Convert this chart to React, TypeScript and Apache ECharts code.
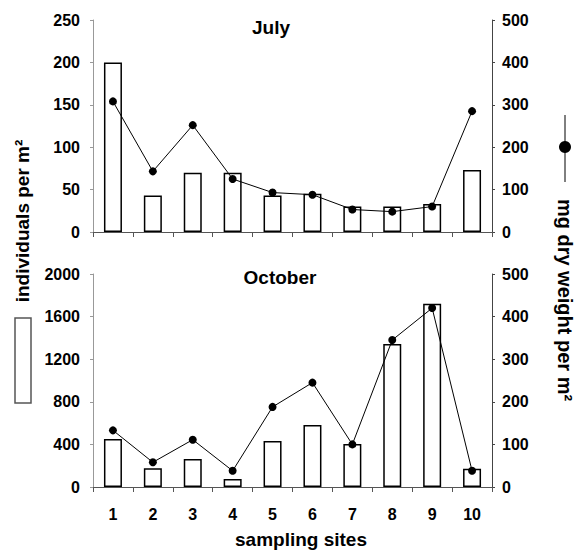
import React, { useEffect, useRef } from "react";
import * as echarts from "echarts";

const sites = ["1", "2", "3", "4", "5", "6", "7", "8", "9", "10"];
const julyIndividuals = [200, 43, 70, 70, 43, 45, 30, 30, 33, 73];
const julyDryWeight = [308, 143, 252, 125, 93, 88, 53, 48, 60, 285];
const octIndividuals = [450, 175, 263, 75, 432, 582, 404, 1343, 1721, 172];
const octDryWeight = [133, 58, 111, 38, 188, 245, 100, 345, 420, 38];

const FONT = "'Liberation Sans', Arial, Helvetica, sans-serif";

export default function App() {
  const ref = useRef<HTMLDivElement>(null);

  useEffect(() => {
    if (!ref.current) return;
    const chart = echarts.init(ref.current, null, { renderer: "svg" });

    const labelStyle = {
      fontFamily: FONT,
      fontWeight: "bold" as const,
      fontSize: 16,
      color: "#000",
    };

    const xAxisBase = (gridIndex: number, showLabel: boolean) => ({
      type: "category" as const,
      gridIndex,
      data: sites,
      boundaryGap: true,
      axisLine: { show: true, lineStyle: { color: "#555", width: 1 } },
      axisTick: { show: true, alignWithLabel: false, length: 5, inside: false, lineStyle: { color: "#555" } },
      axisLabel: { show: showLabel, ...labelStyle, margin: 19 },
      splitLine: { show: false },
    });

    const yAxisBase = (
      gridIndex: number,
      position: "left" | "right",
      max: number,
      interval: number,
      color: string
    ) => ({
      type: "value" as const,
      gridIndex,
      position,
      min: 0,
      max,
      interval,
      axisLine: { show: true, lineStyle: { color, width: 1 } },
      axisTick: { show: true, length: 3, lineStyle: { color } },
      axisLabel: {
        ...labelStyle,
        margin: position === "left" ? 13 : 10,
        formatter: (v: number) => String(v),
      },
      splitLine: { show: false },
    });

    const barStyle = { color: "#fff", borderColor: "#000", borderWidth: 1.5 };
    const lineSeries = (xi: number, yi: number, data: number[]) => ({
      type: "line" as const,
      xAxisIndex: xi,
      yAxisIndex: yi,
      data,
      symbol: "circle",
      symbolSize: 8,
      itemStyle: { color: "#000" },
      lineStyle: { color: "#000", width: 1 },
      z: 5,
    });

    const titleText = (text: string, x: number, y: number, rotation = 0, size = 19) => ({
      type: "text" as const,
      x,
      y,
      rotation,
      style: {
        text,
        fontFamily: FONT,
        fontWeight: "bold",
        fontSize: size,
        fill: "#000",
        textAlign: "center",
        textVerticalAlign: "middle",
      },
    });

    chart.setOption({
      animation: false,
      backgroundColor: "#fff",
      grid: [
        { left: 93, right: 84, top: 20, height: 212 },
        { left: 93, right: 84, top: 274, height: 213 },
      ],
      xAxis: [xAxisBase(0, false), xAxisBase(1, true)],
      yAxis: [
        yAxisBase(0, "left", 250, 50, "#999"),
        yAxisBase(0, "right", 500, 100, "#444"),
        yAxisBase(1, "left", 2000, 400, "#999"),
        yAxisBase(1, "right", 500, 100, "#444"),
      ],
      series: [
        {
          type: "bar",
          xAxisIndex: 0,
          yAxisIndex: 0,
          data: julyIndividuals,
          barWidth: 18,
          itemStyle: barStyle,
        },
        lineSeries(0, 1, julyDryWeight),
        {
          type: "bar",
          xAxisIndex: 1,
          yAxisIndex: 2,
          data: octIndividuals,
          barWidth: 18,
          itemStyle: barStyle,
        },
        lineSeries(1, 3, octDryWeight),
      ],
      graphic: [
        titleText("July", 271, 27),
        titleText("October", 280, 277),
        titleText("sampling sites", 301, 539),
        titleText("individuals per m²", 22, 221, Math.PI / 2),
        titleText("mg dry weight per m²", 565, 300, -Math.PI / 2, 20),
        {
          type: "rect",
          shape: { x: 15, y: 318, width: 16, height: 85 },
          style: { fill: "#fff", stroke: "#555", lineWidth: 1.5 },
        },
        {
          type: "line",
          shape: { x1: 565, y1: 115, x2: 565, y2: 182 },
          style: { stroke: "#000", lineWidth: 1 },
        },
        {
          type: "circle",
          shape: { cx: 565, cy: 147, r: 6 },
          style: { fill: "#000" },
        },
      ],
    });

    return () => chart.dispose();
  }, []);

  return (
    <div
      ref={ref}
      style={{ position: "fixed", left: 0, top: 0, width: 576, height: 550, background: "#fff" }}
    />
  );
}
